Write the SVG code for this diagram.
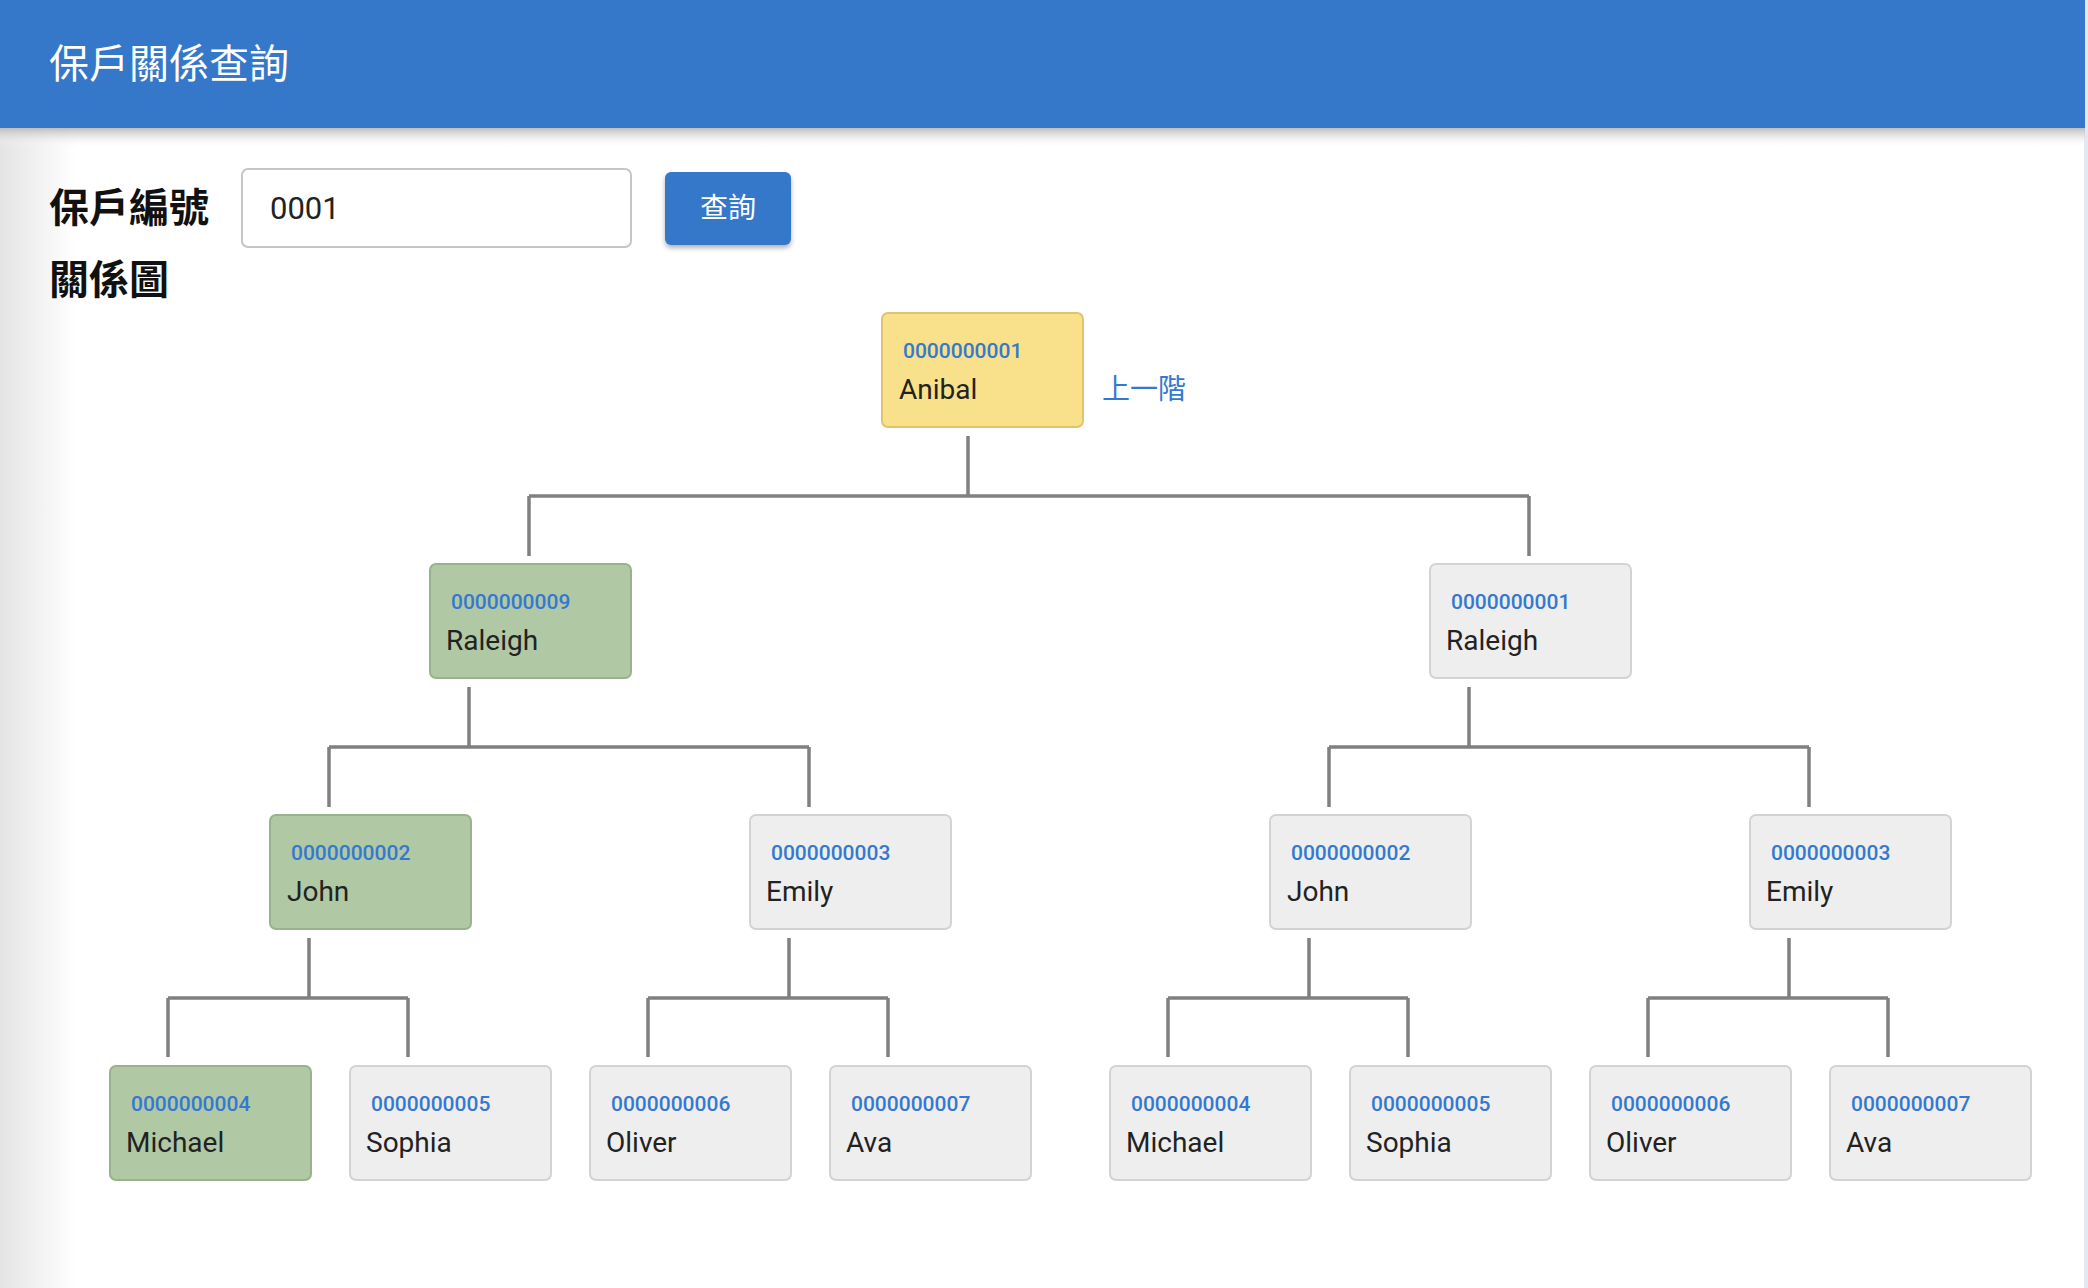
<svg xmlns="http://www.w3.org/2000/svg" width="2088" height="1288" viewBox="0 0 2088 1288">
  <defs>
    <linearGradient id="leftShade" x1="0" y1="0" x2="1" y2="0">
      <stop offset="0" stop-color="#e4e4e4"/>
      <stop offset="1" stop-color="#ffffff"/>
    </linearGradient>
    <linearGradient id="hdrShade" x1="0" y1="0" x2="0" y2="1">
      <stop offset="0" stop-color="#bdbdbd"/>
      <stop offset="1" stop-color="#ffffff" stop-opacity="0"/>
    </linearGradient>
    <filter id="btnShadow" x="-20%" y="-20%" width="140%" height="150%">
      <feDropShadow dx="0" dy="3" stdDeviation="2.5" flood-color="#000" flood-opacity="0.3"/>
    </filter>
  </defs>
  <style>
    .cjk { font-family: "Noto Sans CJK TC", "Noto Sans CJK SC", sans-serif; }
    .node rect { stroke-width: 2; }
    .gray rect { fill: #eeeeee; stroke: #d3d3d3; }
    .green rect { fill: #b0c8a4; stroke: #9ab18d; }
    .yellow rect { fill: #f9e08b; stroke: #e0c46c; }
    .id { font-family: Roboto, "Liberation Sans", sans-serif; font-size: 21px; font-weight: 500; fill: #3479d1; }
    .name { font-family: Roboto, "Liberation Sans", sans-serif; font-size: 28px; fill: #222222; }
    .conn path { fill: none; stroke: #808080; stroke-width: 3.5; }
  </style>

  <!-- page background -->
  <rect x="0" y="0" width="2088" height="1288" fill="#ffffff"/>
  <rect x="0" y="128" width="75" height="1160" fill="url(#leftShade)"/>
  <rect x="2084" y="0" width="4" height="1288" fill="#e3e8f1"/>

  <!-- header -->
  <rect x="0" y="128" width="2085" height="20" fill="url(#hdrShade)"/>
  <rect x="0" y="0" width="2085" height="128" fill="#3577c9"/>
  <text class="cjk" x="49" y="78" font-size="40" fill="#ffffff">保戶關係查詢</text>

  <!-- search row -->
  <text class="cjk" x="49" y="222" font-size="40" font-weight="bold" fill="#111111">保戶編號</text>
  <rect x="242" y="169" width="389" height="78" rx="6" fill="#ffffff" stroke="#c6c6c6" stroke-width="2"/>
  <text x="270" y="219" font-family="Roboto, 'Liberation Sans', sans-serif" font-size="31" fill="#222222">0001</text>
  <g id="btn-query">
    <rect x="665" y="172" width="126" height="73" rx="6" fill="#3577c9" filter="url(#btnShadow)"/>
    <text class="cjk" x="728" y="218" font-size="28" fill="#ffffff" text-anchor="middle">查詢</text>
  </g>
  <text class="cjk" x="49" y="294" font-size="40" font-weight="bold" fill="#111111">關係圖</text>

  <!-- connectors -->
  <g id="connectors" class="conn">
    <path d="M968 436 V496 M529 496 H1529 M529 496 V556 M1529 496 V556"/>
    <path d="M469 687 V747 M329 747 H809 M329 747 V807 M809 747 V807"/>
    <path d="M1469 687 V747 M1329 747 H1809 M1329 747 V807 M1809 747 V807"/>
    <path d="M309 938 V998 M168 998 H408 M168 998 V1057 M408 998 V1057"/>
    <path d="M789 938 V998 M648 998 H888 M648 998 V1057 M888 998 V1057"/>
    <path d="M1309 938 V998 M1168 998 H1408 M1168 998 V1057 M1408 998 V1057"/>
    <path d="M1789 938 V998 M1648 998 H1888 M1648 998 V1057 M1888 998 V1057"/>
  </g>

  <!-- level 1 -->
  <g id="n-root" class="node yellow">
    <rect x="882" y="313" width="201" height="114" rx="6"/>
    <text class="id" x="903" y="358">0000000001</text>
    <text class="name" x="899" y="399">Anibal</text>
  </g>
  <text id="link-up" class="cjk" x="1102" y="399" font-size="28" fill="#3479d1">上一階</text>

  <!-- level 2 -->
  <g id="n-raleigh-9" class="node green">
    <rect x="430" y="564" width="201" height="114" rx="6"/>
    <text class="id" x="451" y="609">0000000009</text>
    <text class="name" x="446" y="650">Raleigh</text>
  </g>
  <g id="n-raleigh-1" class="node gray">
    <rect x="1430" y="564" width="201" height="114" rx="6"/>
    <text class="id" x="1451" y="609">0000000001</text>
    <text class="name" x="1446" y="650">Raleigh</text>
  </g>

  <!-- level 3 -->
  <g id="n-john-a" class="node green">
    <rect x="270" y="815" width="201" height="114" rx="6"/>
    <text class="id" x="291" y="860">0000000002</text>
    <text class="name" x="287" y="901">John</text>
  </g>
  <g id="n-emily-a" class="node gray">
    <rect x="750" y="815" width="201" height="114" rx="6"/>
    <text class="id" x="771" y="860">0000000003</text>
    <text class="name" x="766" y="901">Emily</text>
  </g>
  <g id="n-john-b" class="node gray">
    <rect x="1270" y="815" width="201" height="114" rx="6"/>
    <text class="id" x="1291" y="860">0000000002</text>
    <text class="name" x="1287" y="901">John</text>
  </g>
  <g id="n-emily-b" class="node gray">
    <rect x="1750" y="815" width="201" height="114" rx="6"/>
    <text class="id" x="1771" y="860">0000000003</text>
    <text class="name" x="1766" y="901">Emily</text>
  </g>

  <!-- level 4 -->
  <g id="n-michael-a" class="node green">
    <rect x="110" y="1066" width="201" height="114" rx="6"/>
    <text class="id" x="131" y="1111">0000000004</text>
    <text class="name" x="126" y="1152">Michael</text>
  </g>
  <g id="n-sophia-a" class="node gray">
    <rect x="350" y="1066" width="201" height="114" rx="6"/>
    <text class="id" x="371" y="1111">0000000005</text>
    <text class="name" x="366" y="1152">Sophia</text>
  </g>
  <g id="n-oliver-a" class="node gray">
    <rect x="590" y="1066" width="201" height="114" rx="6"/>
    <text class="id" x="611" y="1111">0000000006</text>
    <text class="name" x="606" y="1152">Oliver</text>
  </g>
  <g id="n-ava-a" class="node gray">
    <rect x="830" y="1066" width="201" height="114" rx="6"/>
    <text class="id" x="851" y="1111">0000000007</text>
    <text class="name" x="846" y="1152">Ava</text>
  </g>
  <g id="n-michael-b" class="node gray">
    <rect x="1110" y="1066" width="201" height="114" rx="6"/>
    <text class="id" x="1131" y="1111">0000000004</text>
    <text class="name" x="1126" y="1152">Michael</text>
  </g>
  <g id="n-sophia-b" class="node gray">
    <rect x="1350" y="1066" width="201" height="114" rx="6"/>
    <text class="id" x="1371" y="1111">0000000005</text>
    <text class="name" x="1366" y="1152">Sophia</text>
  </g>
  <g id="n-oliver-b" class="node gray">
    <rect x="1590" y="1066" width="201" height="114" rx="6"/>
    <text class="id" x="1611" y="1111">0000000006</text>
    <text class="name" x="1606" y="1152">Oliver</text>
  </g>
  <g id="n-ava-b" class="node gray">
    <rect x="1830" y="1066" width="201" height="114" rx="6"/>
    <text class="id" x="1851" y="1111">0000000007</text>
    <text class="name" x="1846" y="1152">Ava</text>
  </g>
</svg>
